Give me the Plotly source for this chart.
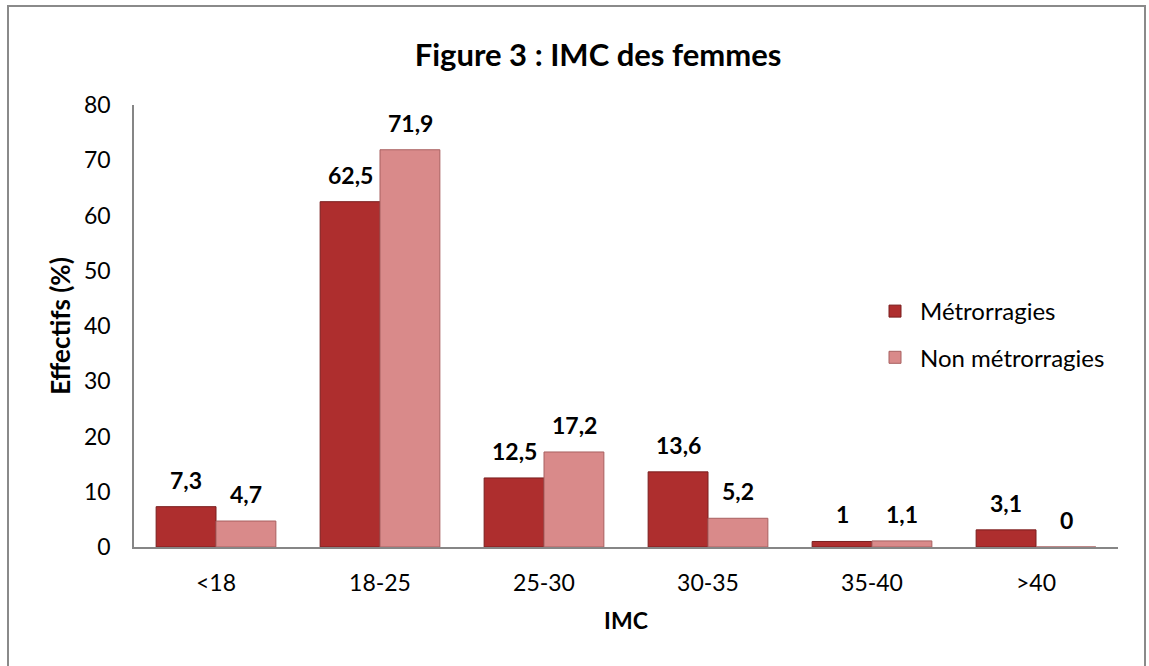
import plotly.graph_objects as go

categories = ["<18", "18-25", "25-30", "30-35", "35-40", ">40"]
metro = [7.3, 62.5, 12.5, 13.6, 1, 3.1]
non_metro = [4.7, 71.9, 17.2, 5.2, 1.1, 0]
labels_metro = ["7,3", "62,5", "12,5", "13,6", "1", "3,1"]
labels_non = ["4,7", "71,9", "17,2", "5,2", "1,1", "0"]
y_ticks = [0, 10, 20, 30, 40, 50, 60, 70, 80]

FONT = "Lato"

fig = go.Figure()
fig.add_trace(go.Bar(
    x=categories, y=metro, name="Métrorragies", legendgroup="a",
    marker=dict(color="#AE2E2E", line=dict(color="#7A1E1E", width=1)),
))
fig.add_trace(go.Bar(
    x=categories, y=non_metro, name="Non métrorragies", legendgroup="b",
    marker=dict(color="#D98A8A", line=dict(color="#A86060", width=1)),
))

annotations = []
for series, labels, shift in ((metro, labels_metro, -30), (non_metro, labels_non, 30)):
    for c, v, t in zip(categories, series, labels):
        annotations.append(dict(
            x=c, y=v, xref="x", yref="y", text=f"<b>{t}</b>", showarrow=False,
            xshift=shift, yshift=27, yanchor="middle",
            font=dict(family=FONT, size=23, color="black"),
        ))

L, R, T, B = 134, 31, 105, 119
W, H = 1149, 666
pw, ph = W - L - R, H - T - B

def px_x(p):
    return (p - L) / pw

def px_y(p):
    return (H - B - p) / ph

fig.update_layout(
    width=W, height=H,
    margin=dict(l=L, r=R, t=T, b=B),
    paper_bgcolor="white", plot_bgcolor="white",
    font=dict(family=FONT, size=23, color="black"),
    title=dict(text="<b>Figure 3 : IMC des femmes</b>", x=598 / W, xref="container",
               xanchor="center", y=1 - 55 / H, yanchor="middle",
               font=dict(size=31, family=FONT)),
    barmode="group", bargap=0.27, bargroupgap=0,
    showlegend=True,
    legend=dict(x=px_x(870), y=px_y(289), xanchor="left", yanchor="top",
                font=dict(size=24, family=FONT), tracegroupgap=12,
                itemwidth=40, bgcolor="rgba(0,0,0,0)"),
    xaxis=dict(showline=True, linecolor="#868686", linewidth=1.5,
               ticks="outside", tickcolor="rgba(0,0,0,0)", ticklen=15,
               showgrid=False,
               title=dict(text="<b>IMC</b>", font=dict(size=23), standoff=18)),
    yaxis=dict(range=[0, 80], tickvals=y_ticks, showline=True,
               linecolor="#868686", linewidth=1.5, ticks="outside",
               tickcolor="rgba(0,0,0,0)", ticklen=17, showgrid=False,
               zeroline=False,
               title=dict(text="<b>Effectifs (%)</b>", font=dict(size=26), standoff=6)),
    annotations=annotations,
    shapes=[dict(type="rect", xref="paper", yref="paper",
                 x0=px_x(8), x1=px_x(1145), y0=px_y(668), y1=px_y(6),
                 line=dict(color="#8A8A8A", width=2), layer="below")],
)

fig.write_html("out.html", config={"displayModeBar": False},
               post_script="document.body.style.margin='0';document.body.style.padding='0';")
